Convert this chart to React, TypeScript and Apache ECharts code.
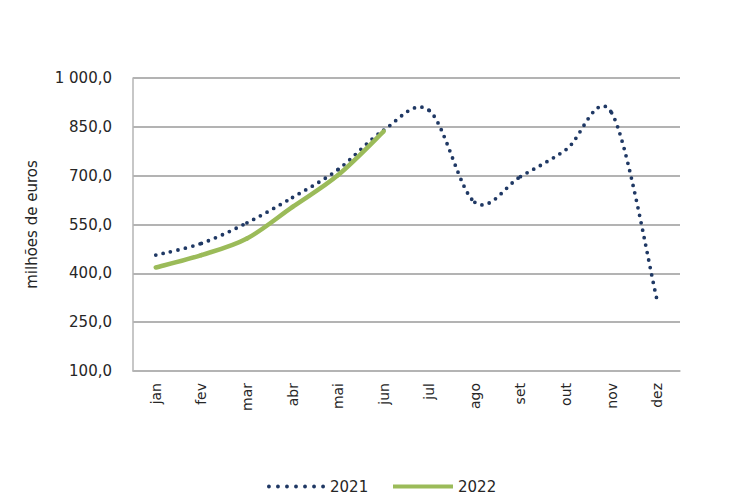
import React, { useEffect, useRef } from "react";
import * as echarts from "echarts";

const months = ["jan", "fev", "mar", "abr", "mai", "jun", "jul", "ago", "set", "out", "nov", "dez"];
const values2021 = [456, 492, 555, 633, 719, 840, 900, 618, 697, 780, 893, 316];
const values2022 = [418, 456, 507, 604, 702, 836];
const yMin = 100;
const yMax = 1000;
const yStep = 150;

const FONT = "DejaVu Sans";
const TEXT = "#262626";
const NAVY = "#1F3864";
const GREEN = "#9BBB59";

// legend glyph for the dotted series: seven round dots in a 60x4 box
const DOTS_ICON =
  "path://" +
  Array.from({ length: 7 }, (_, i) => {
    const cx = 2 + i * 9.33;
    return `M${(cx - 2).toFixed(2)},2a2,2 0 1,0 4,0a2,2 0 1,0 -4,0Z`;
  }).join("");

function formatPt(v: number): string {
  const [intPart, dec] = v.toFixed(1).split(".");
  const grouped = intPart.replace(/\B(?=(\d{3})+(?!\d))/g, " ");
  return grouped + "," + dec;
}

// Catmull-Rom style smoothed segment (i -> i+1), drawn as a cubic bezier
function smoothSegment(values: number[], style: Record<string, unknown>) {
  return (params: any, api: any) => {
    const i = params.dataIndex;
    if (i >= values.length - 1) return null;
    const at = (k: number) => {
      const j = Math.max(0, Math.min(values.length - 1, k));
      return api.coord([j, values[j]]);
    };
    const p0 = at(i - 1);
    const p1 = at(i);
    const p2 = at(i + 1);
    const p3 = at(i + 2);
    const t = 1 / 6;
    return {
      type: "bezierCurve",
      shape: {
        x1: p1[0],
        y1: p1[1],
        cpx1: p1[0] + (p2[0] - p0[0]) * t,
        cpy1: p1[1] + (p2[1] - p0[1]) * t,
        cpx2: p2[0] - (p3[0] - p1[0]) * t,
        cpy2: p2[1] - (p3[1] - p1[1]) * t,
        x2: p2[0],
        y2: p2[1],
      },
      style: { fill: null, ...style },
    };
  };
}

export default function App() {
  const ref = useRef<HTMLDivElement>(null);

  useEffect(() => {
    if (!ref.current) return;
    const chart = echarts.init(ref.current, undefined, { renderer: "svg" });
    chart.setOption({
      animation: false,
      backgroundColor: "#ffffff",
      textStyle: { fontFamily: FONT, color: TEXT },
      grid: { left: 133, right: 51, top: 78, bottom: 133 },
      legend: [
        {
          left: 262,
          top: 474,
          itemWidth: 58,
          itemHeight: 4,
          icon: DOTS_ICON,
          textStyle: { fontFamily: FONT, fontSize: 15, color: TEXT },
          data: ["2021"],
        },
        {
          left: 388,
          top: 474,
          itemWidth: 60,
          itemHeight: 4,
          icon: "rect",
          textStyle: { fontFamily: FONT, fontSize: 15, color: TEXT },
          data: ["2022"],
        },
      ],
      xAxis: {
        type: "category",
        data: months,
        boundaryGap: true,
        axisLine: { lineStyle: { color: "#b5b5b5", width: 1.5 } },
        axisTick: { show: false },
        axisLabel: {
          rotate: 90,
          margin: 12,
          fontSize: 14,
          fontFamily: FONT,
          color: TEXT,
        },
      },
      yAxis: {
        type: "value",
        min: yMin,
        max: yMax,
        interval: yStep,
        name: "milhões de euros",
        nameLocation: "middle",
        nameGap: 94,
        nameTextStyle: { fontFamily: FONT, fontSize: 15, color: TEXT },
        axisLine: { show: true, lineStyle: { color: "#b5b5b5", width: 1.5 } },
        axisTick: { show: false },
        axisLabel: {
          margin: 21,
          fontSize: 15,
          fontFamily: FONT,
          color: TEXT,
          formatter: (v: number) => formatPt(v),
        },
        splitLine: { lineStyle: { color: "#9a9a9a", width: 1.5 } },
      },
      series: [
        {
          name: "2021",
          type: "custom",
          data: values2021.map((v, i) => [i, v]),
          encode: { x: 0, y: 1 },
          itemStyle: { color: NAVY },
          renderItem: smoothSegment(values2021, {
            stroke: NAVY,
            lineWidth: 3.8,
            lineDash: [0, 7.6],
            lineCap: "round",
          }),
          z: 2,
        },
        {
          name: "2022",
          type: "custom",
          data: values2022.map((v, i) => [i, v]),
          encode: { x: 0, y: 1 },
          itemStyle: { color: GREEN },
          renderItem: smoothSegment(values2022, {
            stroke: GREEN,
            lineWidth: 4.5,
            lineCap: "round",
          }),
          z: 3,
        },
      ],
    });
    return () => chart.dispose();
  }, []);

  return (
    <div
      ref={ref}
      style={{ position: "fixed", left: 0, top: 0, width: 731, height: 504 }}
    />
  );
}
